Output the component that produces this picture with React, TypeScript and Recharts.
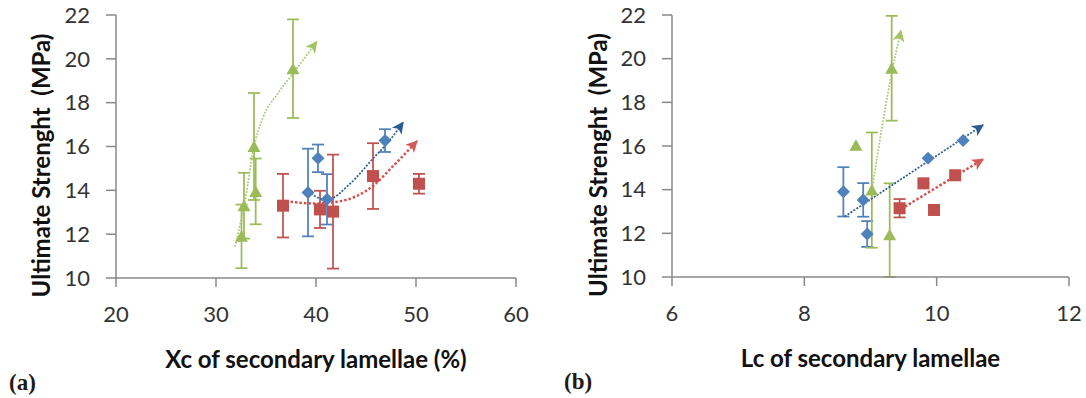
import React from 'react';
import { ComposedChart, Scatter, Line, XAxis, YAxis, ErrorBar, Label } from 'recharts';

// ---------- data ----------
const yTicks = [10, 12, 14, 16, 18, 20, 22];
const xTicksA = [20, 30, 40, 50, 60];
const xTicksB = [6, 8, 10, 12];

// (a) Xc of secondary lamellae (%)
const blueA = [
  { x: 39.2, y: 13.9, err: 2.0 },
  { x: 40.2, y: 15.46, err: 0.63 },
  { x: 41.1, y: 13.59, err: 1.15 },
  { x: 46.9, y: 16.27, err: 0.52 },
];
const redA = [
  { x: 36.7, y: 13.3, err: 1.45 },
  { x: 40.4, y: 13.13, err: 0.85 },
  { x: 41.7, y: 13.03, err: 2.6 },
  { x: 45.7, y: 14.65, err: 1.5 },
  { x: 50.3, y: 14.3, err: 0.45 },
];
const greenA = [
  { x: 32.55, y: 11.9, err: 1.45 },
  { x: 32.8, y: 13.3, err: 1.5 },
  { x: 33.8, y: 16.0, err: 2.44 },
  { x: 33.97, y: 13.95, err: 1.5 },
  { x: 37.7, y: 19.55, err: 2.25 },
];
const blueTrendA = [
  { x: 39.5, y: 13.85 },
  { x: 41.0, y: 13.55 },
  { x: 43.4, y: 14.3 },
  { x: 45.7, y: 15.45 },
  { x: 47.4, y: 16.3 },
  { x: 48.7, y: 17.1 },
];
const redTrendA = [
  { x: 37.0, y: 13.5 },
  { x: 40.0, y: 13.4 },
  { x: 42.4, y: 13.5 },
  { x: 45.7, y: 14.2 },
  { x: 47.7, y: 15.1 },
  { x: 50.1, y: 16.25 },
];
const greenTrendA = [
  { x: 31.9, y: 11.43 },
  { x: 32.97, y: 13.71 },
  { x: 33.73, y: 15.84 },
  { x: 34.73, y: 17.36 },
  { x: 36.07, y: 18.35 },
  { x: 37.73, y: 19.35 },
  { x: 40.07, y: 20.78 },
];

// (b) Lc of secondary lamellae
const blueB = [
  { x: 8.59, y: 13.9, err: 1.13 },
  { x: 8.89, y: 13.53, err: 0.77 },
  { x: 8.95, y: 11.97, err: 0.59 },
  { x: 9.87, y: 15.44, err: null },
  { x: 10.4, y: 16.25, err: null },
];
const redB = [
  { x: 9.44, y: 13.15, err: 0.42 },
  { x: 9.8, y: 14.29, err: null },
  { x: 9.96, y: 13.07, err: null },
  { x: 10.28, y: 14.66, err: null },
];
const greenB = [
  { x: 8.78, y: 16.04, err: null },
  { x: 9.02, y: 13.98, err: 2.64 },
  { x: 9.29, y: 11.93, err: [1.93, 2.36] },
  { x: 9.32, y: 19.56, err: 2.4 },
];
const blueTrendB = [
  { x: 8.61, y: 12.77 },
  { x: 10.7, y: 16.96 },
];
const redTrendB = [
  { x: 9.52, y: 13.22 },
  { x: 10.7, y: 15.39 },
];
const greenTrendB = [
  { x: 9.03, y: 14.15 },
  { x: 9.33, y: 19.48 },
  { x: 9.46, y: 21.28 },
];

// ---------- style ----------
const BLUE = '#4F81BD';
const RED = '#C0504D';
const GREEN = '#9BBB59';
const BLUE_T = '#2F5E94';
const RED_T = '#D0534F';
const GREEN_T = '#A9C871';
const AXIS = '#898989';
const FONT = 'Lato, "Open Sans", sans-serif';

const Diamond = (p: any) => {
  const { cx, cy } = p;
  const r = 6.5;
  return <path d={`M${cx},${cy - r}L${cx + r},${cy}L${cx},${cy + r}L${cx - r},${cy}Z`} fill={BLUE} />;
};
const Square = (p: any) => {
  const { cx, cy } = p;
  const r = 6;
  return <rect x={cx - r} y={cy - r} width={2 * r} height={2 * r} fill={RED} />;
};
const Triangle = (p: any) => {
  const { cx, cy } = p;
  const w = 6.5;
  return <path d={`M${cx},${cy - 6}L${cx + w},${cy + 5.5}L${cx - w},${cy + 5.5}Z`} fill={GREEN} />;
};

const yTitle = (dx: number) => (props: any) => {
  const vb = props.viewBox || { x: 0, y: 0, width: 0, height: 0 };
  const cx = vb.x + dx;
  const cy = vb.y + vb.height / 2 + 19;
  return (
    <text
      x={cx}
      y={cy}
      transform={`rotate(-90 ${cx} ${cy})`}
      textAnchor="middle"
      dominantBaseline="central"
      style={{ fontFamily: FONT, fontWeight: 700, fontSize: 24, fill: '#111', whiteSpace: 'pre' }}
    >
      Ultimate Strenght  (MPa)
    </text>
  );
};

const xTitle = (text: string) => (props: any) => {
  const vb = props.viewBox || { x: 0, y: 0, width: 0, height: 0 };
  const cx = vb.x + vb.width / 2;
  const cy = vb.y + 80;
  return (
    <text
      x={cx}
      y={cy}
      textAnchor="middle"
      dominantBaseline="central"
      style={{ fontFamily: FONT, fontWeight: 700, fontSize: 24, fill: '#111' }}
    >
      {text}
    </text>
  );
};

const tickStyle = { fontFamily: FONT, fontSize: 22, fill: '#333' };

type Pt = { x: number; y: number; err?: any };

function Panel(props: {
  xDomain: [number, number];
  xTicks: number[];
  xLabel: string;
  margin: { top: number; right: number; bottom: number; left: number };
  yTitleDx: number;
  blue: Pt[];
  red: Pt[];
  green: Pt[];
  blueTrend: Pt[];
  redTrend: Pt[];
  greenTrend: Pt[];
}) {
  const p = props;
  return (
    <ComposedChart width={543} height={398} margin={p.margin}>
      <XAxis
        type="number"
        dataKey="x"
        domain={p.xDomain}
        ticks={p.xTicks}
        allowDataOverflow
        height={40}
        tickSize={9}
        tickMargin={19}
        axisLine={{ stroke: AXIS, strokeWidth: 1.5 }}
        tickLine={{ stroke: AXIS, strokeWidth: 1.5 }}
        tick={tickStyle}
      >
        <Label content={xTitle(p.xLabel)} />
      </XAxis>
      <YAxis
        type="number"
        dataKey="y"
        domain={[10, 22]}
        ticks={yTicks}
        allowDataOverflow
        width={60}
        tickSize={10}
        tickMargin={16}
        axisLine={{ stroke: AXIS, strokeWidth: 1.5 }}
        tickLine={{ stroke: AXIS, strokeWidth: 1.5 }}
        tick={tickStyle}
      >
        <Label content={yTitle(p.yTitleDx)} />
      </YAxis>
      <Scatter data={p.blue} dataKey="y" fill={BLUE} shape={Diamond} isAnimationActive={false}>
        <ErrorBar dataKey="err" direction="y" width={6} stroke={BLUE} strokeWidth={1.75} />
      </Scatter>
      <Scatter data={p.red} dataKey="y" fill={RED} shape={Square} isAnimationActive={false}>
        <ErrorBar dataKey="err" direction="y" width={6} stroke={RED} strokeWidth={1.75} />
      </Scatter>
      <Scatter data={p.green} dataKey="y" fill={GREEN} shape={Triangle} isAnimationActive={false}>
        <ErrorBar dataKey="err" direction="y" width={6} stroke={GREEN} strokeWidth={1.75} />
      </Scatter>
      <Line
        data={p.blueTrend}
        dataKey="y"
        type="monotone"
        dot={false}
        activeDot={false}
        stroke={BLUE_T}
        strokeWidth={1.75}
        strokeDasharray="2 1.5"
        markerEnd="url(#arrBlue)"
        isAnimationActive={false}
      />
      <Line
        data={p.redTrend}
        dataKey="y"
        type="monotone"
        dot={false}
        activeDot={false}
        stroke={RED_T}
        strokeWidth={2.5}
        strokeDasharray="2.5 2"
        markerEnd="url(#arrRed)"
        isAnimationActive={false}
      />
      <Line
        data={p.greenTrend}
        dataKey="y"
        type="monotone"
        dot={false}
        activeDot={false}
        stroke={GREEN_T}
        strokeWidth={1.75}
        strokeDasharray="1.75 1.5"
        markerEnd="url(#arrGreen)"
        isAnimationActive={false}
      />
    </ComposedChart>
  );
}

const arrowPath = 'M0,0 L10,5 L0,10 L2.5,5 Z';

export default function App() {
  return (
    <div style={{ position: 'absolute', left: 0, top: 0, width: 1086, height: 398, background: '#fff', overflow: 'hidden' }}>
      <svg width={0} height={0} style={{ position: 'absolute' }}>
        <defs>
          <marker id="arrBlue" viewBox="0 0 10 10" refX={9} refY={5} markerWidth={13} markerHeight={12} markerUnits="userSpaceOnUse" orient="auto">
            <path d={arrowPath} fill="#2B5C93" />
          </marker>
          <marker id="arrRed" viewBox="0 0 10 10" refX={9} refY={5} markerWidth={13} markerHeight={12} markerUnits="userSpaceOnUse" orient="auto">
            <path d={arrowPath} fill="#D55A56" />
          </marker>
          <marker id="arrGreen" viewBox="0 0 10 10" refX={9} refY={5} markerWidth={13} markerHeight={12} markerUnits="userSpaceOnUse" orient="auto">
            <path d={arrowPath} fill="#A3C466" />
          </marker>
        </defs>
      </svg>
      <div style={{ position: 'absolute', left: 0, top: 0 }}>
        <Panel
          xDomain={[20, 60]}
          xTicks={xTicksA}
          xLabel="Xc of secondary lamellae (%)"
          margin={{ top: 15, right: 27, bottom: 80, left: 56 }}
          yTitleDx={-16}
          blue={blueA}
          red={redA}
          green={greenA}
          blueTrend={blueTrendA}
          redTrend={redTrendA}
          greenTrend={greenTrendA}
        />
      </div>
      <div style={{ position: 'absolute', left: 543, top: 0 }}>
        <Panel
          xDomain={[6, 12]}
          xTicks={xTicksB}
          xLabel="Lc of secondary lamellae"
          margin={{ top: 15, right: 17, bottom: 81, left: 69 }}
          yTitleDx={-15}
          blue={blueB}
          red={redB}
          green={greenB}
          blueTrend={blueTrendB}
          redTrend={redTrendB}
          greenTrend={greenTrendB}
        />
      </div>
      <div style={{ position: 'absolute', left: 9, top: 370, fontFamily: '"Liberation Serif", "DejaVu Serif", serif', fontWeight: 700, fontSize: 23, color: '#1f1a14' }}>(a)</div>
      <div style={{ position: 'absolute', left: 564, top: 369, fontFamily: '"Liberation Serif", "DejaVu Serif", serif', fontWeight: 700, fontSize: 23, color: '#1f1a14' }}>(b)</div>
    </div>
  );
}
